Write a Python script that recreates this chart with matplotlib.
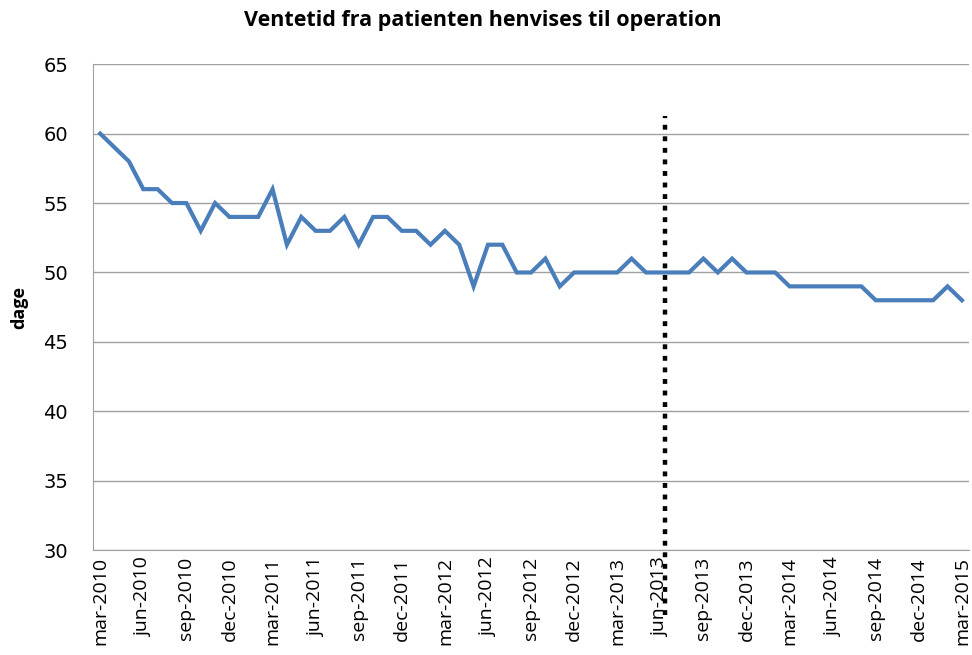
import matplotlib
matplotlib.use("Agg")
import matplotlib.pyplot as plt

# monthly waiting times (dage), mar-2010 .. mar-2015
dage = [60, 59, 58, 56, 56, 55, 55, 53, 55, 54, 54, 54,
        56, 52, 54, 53, 53, 54, 52, 54, 54, 53, 53, 52,
        53, 52, 49, 52, 52, 50, 50, 51, 49, 50, 50, 50,
        50, 51, 50, 50, 50, 50, 51, 50, 51, 50, 50, 50,
        49, 49, 49, 49, 49, 49, 48, 48, 48, 48, 48, 49,
        48]
tick_labels = ["mar-2010", "jun-2010", "sep-2010", "dec-2010",
               "mar-2011", "jun-2011", "sep-2011", "dec-2011",
               "mar-2012", "jun-2012", "sep-2012", "dec-2012",
               "mar-2013", "jun-2013", "sep-2013", "dec-2013",
               "mar-2014", "jun-2014", "sep-2014", "dec-2014",
               "mar-2015"]
marker_pos = 39.3      # dotted line, around jun-2013
marker_span = (25.3, 61.3)

fig = plt.figure(figsize=(9.72, 6.55), dpi=100)
ax = fig.add_axes([0.0957, 0.160, 0.9013, 0.742])

x = list(range(len(dage)))
ax.plot(x, dage, color="#4a7ebb", lw=3.0, solid_joinstyle="miter", zorder=3)

ax.plot([marker_pos, marker_pos], marker_span, color="black", lw=3.2,
        linestyle=(0, (1.1, 1.5)), dash_capstyle="butt", clip_on=False, zorder=4)

ax.set_xlim(-0.5, len(dage) - 0.5)
ax.set_ylim(30, 65)
ax.set_yticks(range(30, 66, 5))
ax.set_xticks(range(0, len(dage), 3))
ax.set_xticklabels(tick_labels, rotation=90, fontsize=14, family="Open Sans")
ax.tick_params(axis="y", labelsize=14, length=0, pad=18)
ax.tick_params(axis="x", length=0, pad=5)

ax.grid(axis="y", color="#a0a0a0", lw=1)
ax.set_axisbelow(True)
for s in ["top", "right"]:
    ax.spines[s].set_visible(False)
ax.spines["left"].set_color("#a0a0a0")
ax.spines["bottom"].set_color("#a0a0a0")

ax.set_ylabel("dage", fontsize=13, fontweight="bold", family="Open Sans")
ax.yaxis.set_label_coords(-0.074, 0.5)
fig.text(0.497, 0.969, "Ventetid fra patienten henvises til operation", ha="center",
         va="center", fontsize=15.5, fontweight="bold", family="Open Sans")

fig.savefig("out.png", dpi=100)
